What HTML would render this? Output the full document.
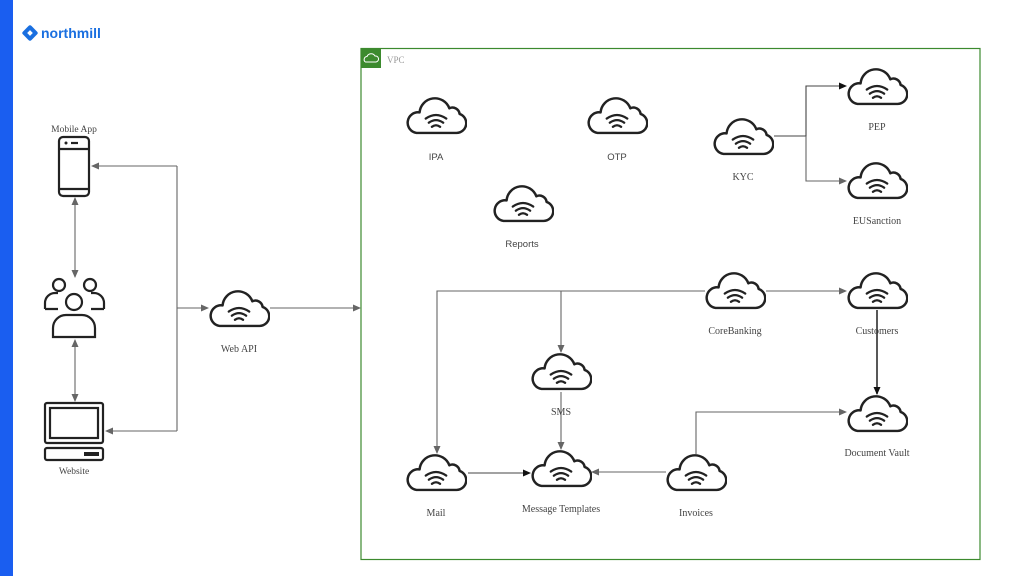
<!DOCTYPE html>
<html><head><meta charset="utf-8"><style>
html,body{margin:0;padding:0;background:#fff;}
svg{display:block;}
text{font-family:"Liberation Serif",serif;font-size:10px;fill:#444;}
.s{font-family:"Liberation Sans",sans-serif;}
</style></head><body>
<svg width="1024" height="576" viewBox="0 0 1024 576" xmlns="http://www.w3.org/2000/svg">
<defs>
<symbol id="c" viewBox="0 0 60 38">
<path d="M11,36 H50 A9.5,9.5 0 0 0 53,17.5 A7,7 0 0 0 43,12 A15,15 0 0 0 14,16 A10,10 0 0 0 11,36 Z" fill="none" stroke="#222" stroke-width="2.4" stroke-linejoin="round"/>
<path d="M20,22 Q30,15 40,22 M23,26 Q30,21 37,26 M26,30 Q30,27 34,30" fill="none" stroke="#222" stroke-width="2.2" stroke-linecap="round"/>
</symbol>
<marker id="a" markerWidth="8" markerHeight="8" refX="7" refY="4" orient="auto" markerUnits="userSpaceOnUse"><path d="M0,0.5 L8,4 L0,7.5 Z" fill="#666"/></marker>
<marker id="b" markerWidth="8" markerHeight="8" refX="7" refY="4" orient="auto" markerUnits="userSpaceOnUse"><path d="M0,0.5 L8,4 L0,7.5 Z" fill="#111"/></marker>
<marker id="as" markerWidth="8" markerHeight="8" refX="1" refY="4" orient="auto" markerUnits="userSpaceOnUse"><path d="M8,0.5 L0,4 L8,7.5 Z" fill="#666"/></marker>
</defs>
<rect x="0" y="0" width="13" height="576" fill="#1a5ef0"/>
<!-- logo -->
<g transform="translate(30,33) rotate(45)"><rect x="-6" y="-6" width="12" height="12" rx="2" fill="#1a6fe0"/><rect x="-2" y="-2" width="4" height="4" fill="#fff"/></g>
<text x="41" y="38" class="s" style="font-size:14px;font-weight:bold;fill:#1a6fe0">northmill</text>
<!-- VPC -->
<rect x="361" y="48.5" width="619" height="511" fill="none" stroke="#3c8a2e" stroke-width="1.2"/>
<rect x="361" y="48" width="20" height="20" fill="#3c8a2e"/>
<path d="M365.5,62 H376 A3,3 0 0 0 375,56 A4.5,4.5 0 0 0 367,56.5 A3,3 0 0 0 365.5,62 Z" fill="none" stroke="#fff" stroke-width="1"/>
<text x="387" y="63" style="font-size:9px;fill:#999">VPC</text>
<g fill="none" stroke="#666" stroke-width="1.1">
<line x1="270" y1="308" x2="360" y2="308" marker-end="url(#a)"/>
<line x1="177" y1="308" x2="208" y2="308" marker-end="url(#a)"/>
<polyline points="177,166 92,166" marker-end="url(#a)"/>
<polyline points="177,431 106,431" marker-end="url(#a)"/>
<line x1="177" y1="166" x2="177" y2="431"/>
<line x1="75" y1="198" x2="75" y2="277" marker-start="url(#as)" marker-end="url(#a)"/>
<line x1="75" y1="340" x2="75" y2="401" marker-start="url(#as)" marker-end="url(#a)"/>
<polyline points="774,136 806,136 806,86 846,86" marker-end="url(#b)" stroke="#444"/>
<polyline points="806,136 806,181 846,181" marker-end="url(#a)"/>
<polyline points="705,291 437,291 437,453" marker-end="url(#a)"/>
<polyline points="561,291 561,352" marker-end="url(#a)"/>
<line x1="766" y1="291" x2="846" y2="291" marker-end="url(#a)"/>
<line x1="877" y1="310" x2="877" y2="394" stroke="#111" stroke-width="1.4" marker-end="url(#b)"/>
<line x1="561" y1="392" x2="561" y2="449" marker-end="url(#a)"/>
<line x1="468" y1="473" x2="530" y2="473" marker-end="url(#b)" stroke="#444"/>
<line x1="666" y1="472" x2="592" y2="472" marker-end="url(#a)"/>
<polyline points="696,454 696,412 846,412" marker-end="url(#a)"/>
</g>
<!-- clouds -->
<use href="#c" x="405" y="96" width="62" height="39"/>
<use href="#c" x="586" y="96" width="62" height="39"/>
<use href="#c" x="492" y="184" width="62" height="39"/>
<use href="#c" x="712" y="117" width="62" height="39"/>
<use href="#c" x="846" y="67" width="62" height="39"/>
<use href="#c" x="846" y="161" width="62" height="39"/>
<use href="#c" x="704" y="271" width="62" height="39"/>
<use href="#c" x="846" y="271" width="62" height="39"/>
<use href="#c" x="530" y="352" width="62" height="39"/>
<use href="#c" x="846" y="394" width="62" height="39"/>
<use href="#c" x="405" y="453" width="62" height="39"/>
<use href="#c" x="530" y="449" width="62" height="39"/>
<use href="#c" x="665" y="453" width="62" height="39"/>
<use href="#c" x="208" y="289" width="62" height="39"/>
<!-- phone -->
<g fill="none" stroke="#222" stroke-width="2.2">
<rect x="59" y="137" width="30" height="59" rx="4"/>
<line x1="59" y1="149" x2="89" y2="149"/><line x1="59" y1="189" x2="89" y2="189"/>
<line x1="71" y1="143" x2="78" y2="143"/>
</g>
<circle cx="66" cy="143" r="1.5" fill="#222"/>
<!-- users -->
<g fill="none" stroke="#222" stroke-width="2.2">
<circle cx="59" cy="285" r="6"/><circle cx="90" cy="285" r="6"/>
<path d="M45,309 V303 A10,10 0 0 1 55,293 H58"/>
<path d="M104,309 V303 A10,10 0 0 0 94,293 H91"/>
<path d="M45,309 H58 M91,309 H104"/>
<circle cx="74" cy="302" r="8" fill="#fff"/>
<path d="M53,337 V328 A13,13 0 0 1 66,315 H82 A13,13 0 0 1 95,328 V337 Z" fill="#fff"/>
</g>
<!-- computer -->
<g fill="none" stroke="#222" stroke-width="2.2">
<rect x="45" y="403" width="58" height="40" rx="2"/>
<rect x="50" y="408" width="48" height="30"/>
<rect x="45" y="448" width="58" height="12" rx="2"/>
</g>
<rect x="84" y="452" width="15" height="4" fill="#222"/>
<!-- labels -->
<g text-anchor="middle">
<text x="74" y="132" style="font-size:9.5px">Mobile App</text>
<text x="74" y="474" style="font-size:9.5px">Website</text>
<text x="239" y="352">Web API</text>
<text x="436" y="160" class="s" style="font-size:9.5px">IPA</text>
<text x="617" y="160" class="s" style="font-size:9.5px">OTP</text>
<text x="522" y="247" class="s" style="font-size:9.5px">Reports</text>
<text x="743" y="180">KYC</text>
<text x="877" y="130">PEP</text>
<text x="877" y="224">EUSanction</text>
<text x="735" y="334">CoreBanking</text>
<text x="877" y="334">Customers</text>
<text x="561" y="415">SMS</text>
<text x="877" y="456">Document Vault</text>
<text x="436" y="516">Mail</text>
<text x="561" y="512">Message Templates</text>
<text x="696" y="516">Invoices</text>
</g>
</svg>
</body></html>
